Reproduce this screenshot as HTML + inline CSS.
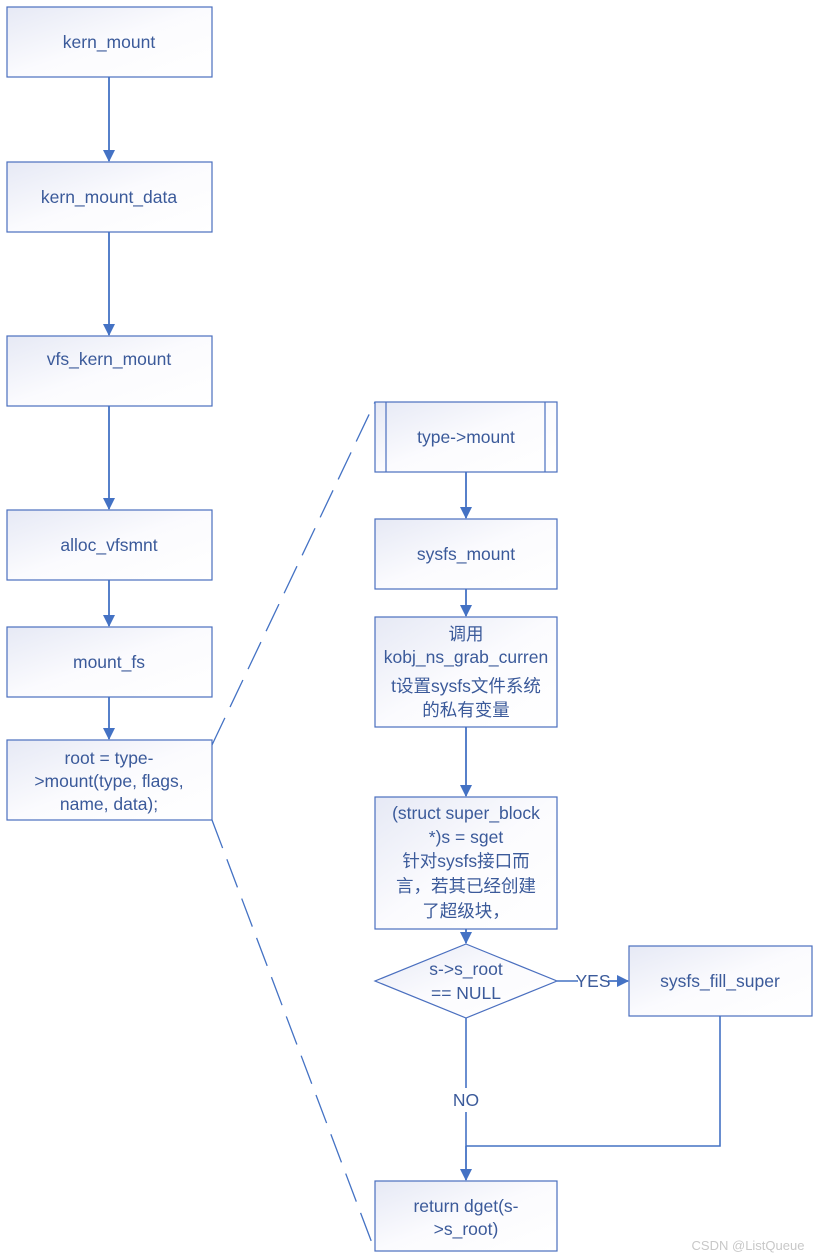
<!DOCTYPE html><html><head><style>body{margin:0;background:#fff}svg{display:block}text{font-family:"Liberation Sans","Noto Sans CJK SC",sans-serif;font-size:17.5px;fill:#3b5a9a;text-anchor:middle}</style></head><body>
<svg width="823" height="1260" viewBox="0 0 823 1260">
<defs><linearGradient id="g" x1="0" y1="0" x2="1" y2="1"><stop offset="0" stop-color="#e6e9f5"/><stop offset="0.5" stop-color="#fbfbfe"/><stop offset="1" stop-color="#ffffff"/></linearGradient>
<marker id="a" markerWidth="12" markerHeight="12" refX="11" refY="6" orient="auto" markerUnits="userSpaceOnUse"><path d="M0,0 L12,6 L0,12 z" fill="#4472c4"/></marker></defs>
<g fill="url(#g)" stroke="#4a6fbf" stroke-width="1.2">
<rect x="7" y="7" width="205" height="70"/><rect x="7" y="162" width="205" height="70"/><rect x="7" y="336" width="205" height="70"/><rect x="7" y="510" width="205" height="70"/><rect x="7" y="627" width="205" height="70"/><rect x="7" y="740" width="205" height="80"/>
<rect x="375" y="402" width="182" height="70"/><rect x="375" y="519" width="182" height="70"/><rect x="375" y="617" width="182" height="110"/><rect x="375" y="797" width="182" height="132"/><rect x="629" y="946" width="183" height="70"/><rect x="375" y="1181" width="182" height="70"/>
<path d="M466,944 L557,981 L466,1018 L375,981 z"/>
</g>
<g stroke="#4a6fbf" stroke-width="1.2"><line x1="386" y1="402" x2="386" y2="472"/><line x1="545" y1="402" x2="545" y2="472"/></g>
<g stroke="#4472c4" stroke-width="1.8" fill="none" marker-end="url(#a)">
<line x1="109" y1="77" x2="109" y2="161"/><line x1="109" y1="232" x2="109" y2="335"/><line x1="109" y1="406" x2="109" y2="509"/><line x1="109" y1="580" x2="109" y2="626"/><line x1="109" y1="697" x2="109" y2="739"/>
<line x1="466" y1="472" x2="466" y2="518"/><line x1="466" y1="589" x2="466" y2="616"/><line x1="466" y1="727" x2="466" y2="796"/><line x1="466" y1="929" x2="466" y2="943"/>
<line x1="608" y1="981" x2="628" y2="981"/>
<path d="M466,1146 L466,1180"/>
</g>
<g stroke="#4472c4" stroke-width="1.6" fill="none">
<line x1="557" y1="981" x2="578" y2="981"/><line x1="466" y1="1018" x2="466" y2="1088"/><line x1="466" y1="1112" x2="466" y2="1146"/><path d="M720,1016 V1146 H466"/>
</g>
<g stroke="#4472c4" stroke-width="1.3" stroke-dasharray="30,12" fill="none"><line x1="212" y1="745" x2="375" y2="402"/><line x1="212" y1="820" x2="375" y2="1251"/></g>
<text x="109" y="48">kern_mount</text><text x="109" y="203">kern_mount_data</text><text x="109" y="365">vfs_kern_mount</text><text x="109" y="551">alloc_vfsmnt</text><text x="109" y="668">mount_fs</text>
<text x="109" y="764">root = type-</text><text x="109" y="787">&gt;mount(type, flags,</text><text x="109" y="810">name, data);</text>
<text x="466" y="443">type-&gt;mount</text><text x="466" y="560">sysfs_mount</text>
<text x="466" y="640">调用</text><text x="466" y="663">kobj_ns_grab_curren</text><text x="466" y="692">t设置sysfs文件系统</text><text x="466" y="716">的私有变量</text>
<text x="466" y="819">(struct super_block</text><text x="466" y="843">*)s = sget</text><text x="466" y="867">针对sysfs接口而</text><text x="466" y="892">言，若其已经创建</text><text x="466" y="917">了超级块，</text>
<text x="466" y="975">s-&gt;s_root</text><text x="466" y="999">== NULL</text>
<text x="593" y="987">YES</text><text x="466" y="1106">NO</text>
<text x="720" y="987">sysfs_fill_super</text>
<text x="466" y="1212">return dget(s-</text><text x="466" y="1235">&gt;s_root)</text>
<text x="748" y="1250" style="fill:#c8c8c8;font-size:13px">CSDN @ListQueue</text>
</svg></body></html>
